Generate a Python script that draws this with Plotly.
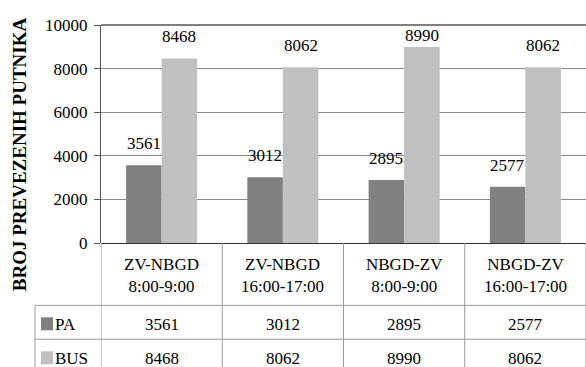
import plotly.graph_objects as go

# Data
categories = ["ZV-NBGD<br>8:00-9:00", "ZV-NBGD<br>16:00-17:00",
              "NBGD-ZV<br>8:00-9:00", "NBGD-ZV<br>16:00-17:00"]
pa_values = [3561, 3012, 2895, 2577]
bus_values = [8468, 8062, 8990, 8062]
series_names = ["PA", "BUS"]
y_ticks = [0, 2000, 4000, 6000, 8000, 10000]
y_title = "BROJ PREVEZENIH PUTNIKA"

# Layout geometry (pixels)
W, H = 586, 367
L, T = 101, 25
B_AX = 243.5            # pixel row of the zero line
R = 0
ROW1 = 306              # bottom of category row
ROW2 = 340              # bottom of PA row
LEG_X = 35              # left edge of legend column
FONT = "Times New Roman"
FS = 17
COL_PA = "#808080"
COL_BUS = "#c0c0c0"
GRID = "#8a8a8a"
TABLE_LINE = "#9a9a9a"
PLOT_W = W - L - R
PLOT_H = B_AX - T


def px_x(px):
    return (px - L) / PLOT_W


def px_y(py):
    return (B_AX - py) / PLOT_H


fig = go.Figure()
fig.add_trace(go.Bar(x=categories, y=pa_values, name=series_names[0],
                     marker=dict(color=COL_PA, line=dict(width=0))))
fig.add_trace(go.Bar(x=categories, y=bus_values, name=series_names[1],
                     marker=dict(color=COL_BUS, line=dict(width=0))))

annotations = []
shapes = []

# value labels above the bars, kept inside the plot area
bar_half = PLOT_W / len(categories) * 0.586 / 4
for series, sign in ((pa_values, -1), (bus_values, 1)):
    for cat, v in zip(categories, series):
        top_px = B_AX - v / 10000 * PLOT_H
        shift = min(10, top_px - T - 22)
        annotations.append(dict(x=cat, y=v, xref="x", yref="y", text=str(v),
                                showarrow=False, xanchor="center", yanchor="bottom",
                                xshift=sign * bar_half, yshift=shift,
                                font=dict(family=FONT, size=FS, color="#000")))

# axis title
annotations.append(dict(x=px_x(19), y=px_y(154.5), xref="paper", yref="paper",
                        text="<b>" + y_title + "</b>", textangle=-90, showarrow=False,
                        xanchor="center", yanchor="middle",
                        font=dict(family=FONT, size=19, color="#000")))

# data table: category row
for cat in categories:
    annotations.append(dict(x=cat, y=px_y((B_AX + ROW1) / 2 + 1), xref="x", yref="paper",
                            text=cat, showarrow=False, xanchor="center", yanchor="middle",
                            font=dict(family=FONT, size=FS, color="#000")))
# data table: value rows with legend keys
for name, vals, col, y0, y1 in ((series_names[0], pa_values, COL_PA, ROW1, ROW2),
                                (series_names[1], bus_values, COL_BUS, ROW2, ROW2 + 34)):
    yc = (y0 + y1) / 2
    for cat, v in zip(categories, vals):
        annotations.append(dict(x=cat, y=px_y(yc + 2), xref="x", yref="paper",
                                text=str(v), showarrow=False, xanchor="center",
                                yanchor="middle",
                                font=dict(family=FONT, size=FS, color="#000")))
    annotations.append(dict(x=px_x(53), y=px_y(yc + 2), xref="paper", yref="paper",
                            text=name, showarrow=False, xanchor="left", yanchor="middle",
                            font=dict(family=FONT, size=FS, color="#000")))
    shapes.append(dict(type="rect", xref="paper", yref="paper",
                       x0=px_x(41), x1=px_x(53), y0=px_y(yc - 5), y1=px_y(yc + 8),
                       fillcolor=col, line=dict(width=0)))

# table grid lines
n = len(categories)
for i in range(n + 1):
    shapes.append(dict(type="line", xref="x", yref="paper", x0=i - 0.5, x1=i - 0.5,
                       y0=0, y1=px_y(H + 10), line=dict(color=TABLE_LINE, width=1)))
for yy in (ROW1, ROW2):
    shapes.append(dict(type="line", xref="paper", yref="paper", x0=px_x(LEG_X), x1=1,
                       y0=px_y(yy), y1=px_y(yy), line=dict(color=TABLE_LINE, width=1)))
shapes.append(dict(type="line", xref="paper", yref="paper", x0=px_x(LEG_X), x1=px_x(LEG_X),
                   y0=px_y(ROW1), y1=px_y(H + 10), line=dict(color=TABLE_LINE, width=1)))
# top border of plot area
shapes.append(dict(type="line", xref="paper", yref="paper", x0=0, x1=1, y0=1, y1=1,
                   line=dict(color="#000", width=1)))

fig.update_layout(
    width=W, height=H,
    margin=dict(l=L, r=R, t=T, b=H - B_AX, pad=0),
    paper_bgcolor="white", plot_bgcolor="white",
    barmode="group", bargap=0.414, bargroupgap=0,
    showlegend=False,
    annotations=annotations, shapes=shapes,
    font=dict(family=FONT, size=FS, color="#000"),
)
fig.update_xaxes(showticklabels=False, ticks="", showgrid=False, zeroline=False,
                 showline=False, range=[-0.5, n - 0.5])
fig.update_yaxes(range=[0, 10000], tickvals=y_ticks, tickformat="d", showgrid=True,
                 gridcolor=GRID, gridwidth=1, zeroline=True, zerolinecolor="#333",
                 zerolinewidth=1, showline=True, linecolor="#555", linewidth=1,
                 ticks="outside", ticklen=6, tickcolor="#555", ticklabelstandoff=3,
                 tickfont=dict(family=FONT, size=FS, color="#000"))

fig.write_html("out.html")
